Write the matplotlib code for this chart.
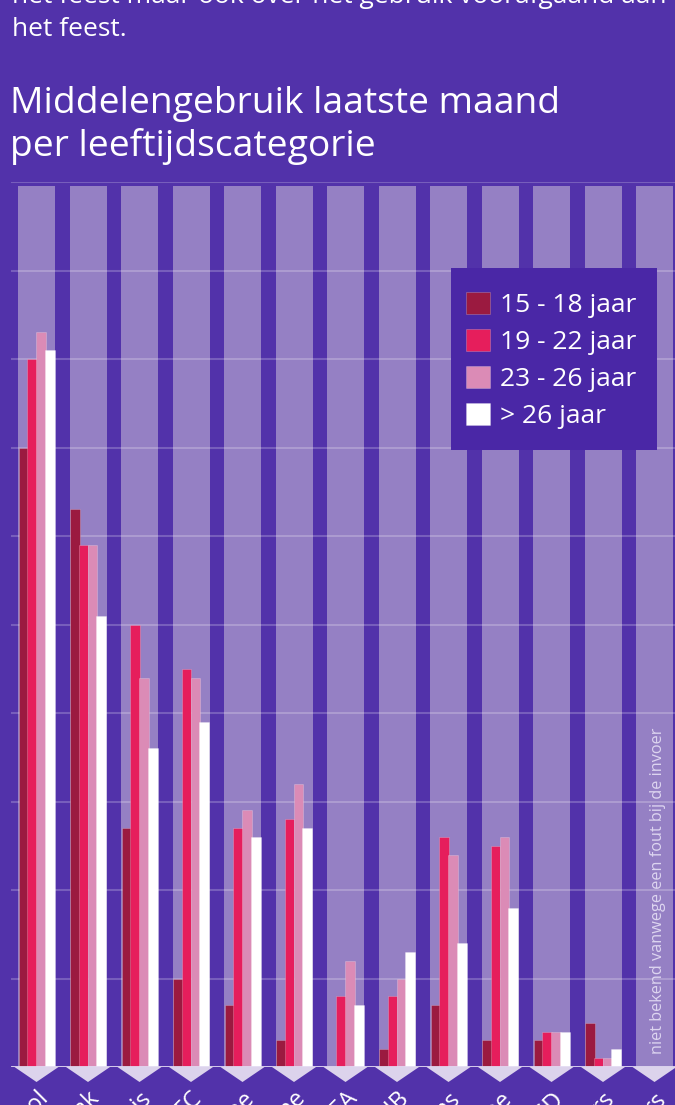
import matplotlib.pyplot as plt
from matplotlib.patches import Rectangle
import numpy as np

# data (percentages)
categories = ["Alcohol", "Tabak", "Cannabis", "XTC", "Cocaïne", "Amfetamine", "4-FA",
              "GHB", "Lachgasballons", "Ketamine", "LSD", "Poppers", "Kalmeerders"]
groups = ["15 - 18 jaar", "19 - 22 jaar", "23 - 26 jaar", "> 26 jaar"]
v_15_18 = [70, 63, 27, 10, 7, 3, 0, 2, 7, 3, 3, 5, np.nan]
v_19_22 = [80, 59, 50, 45, 27, 28, 8, 8, 26, 25, 4, 1, np.nan]
v_23_26 = [83, 59, 44, 44, 29, 32, 12, 10, 24, 26, 4, 1, np.nan]
v_26plus = [81, 51, 36, 39, 26, 27, 7, 13, 14, 18, 4, 2, np.nan]
yticks = list(range(0, 101, 10))

bg = "#5232AA"
col_bg = "#9580C4"
colors = ["#9B1A40", "#E61E5C", "#DB8BB6", "#FFFFFF"]

plt.rcParams['font.family'] = ['Open Sans', 'DejaVu Sans']

W, H = 675, 1105
fig = plt.figure(figsize=(W / 100, H / 100), dpi=100, facecolor=bg)

# intro text (cut off at top) and title
fig.text(12 / W, 1 - 3 / H, "het feest maar ook over het gebruik voorafgaand aan",
         color="white", fontsize=19, va="baseline", ha="left")
fig.text(12 / W, 1 - 36 / H, "het feest.", color="white", fontsize=19,
         va="baseline", ha="left")
fig.text(10 / W, 1 - 113 / H, "Middelengebruik laatste maand", color="white",
         fontsize=26.8, va="baseline", ha="left")
fig.text(10 / W, 1 - 156 / H, "per leeftijdscategorie", color="white",
         fontsize=26.8, va="baseline", ha="left")

# axes: x from 0 to 675 px, y from 1067 px (0) to 182 px (100)
pitch = 51.5
x0 = 36.5
ax = fig.add_axes([0, (H - 1067) / H, 1, 885 / H])
ax.set_facecolor("none")
ax.set_xlim(-x0 / pitch, (W - x0) / pitch)
ax.set_ylim(0, 100)
for s in ax.spines.values():
    s.set_visible(False)
ax.set_yticks([])

x = np.arange(len(categories))

# lavender column backgrounds
ax.bar(x, 99.6, width=37 / pitch, bottom=0, color=col_bg, zorder=1)

# gridlines
gx = 12 / W
for t in yticks[1:]:
    ax.axhline(t, xmin=gx, xmax=1, color="white", alpha=0.22, lw=1.5, zorder=2)
ax.axhline(0, xmin=gx, xmax=1, color="#E2DAF2", lw=2, zorder=5)

# grouped bars
bw = 9.6 / pitch
step = 8.8 / pitch
series = [v_15_18, v_19_22, v_23_26, v_26plus]
for i, (vals, c) in enumerate(zip(series, colors)):
    ax.bar(x + (i - 1.5) * step, vals, width=bw, color=c, zorder=3 + i * 0.1,
           edgecolor=(1, 1, 1, 0.25), linewidth=0.6, label=groups[i])

# triangles under the baseline
hw = 22 / pitch
th = 15 / 8.85
for xi in x:
    ax.fill([xi - hw, xi + hw, xi], [0, 0, -th], color="#DCD3EC",
            clip_on=False, zorder=4, lw=0)

# category labels (cut off at the bottom as in the reference)
ax.set_xticks(x)
ax.set_xticklabels(categories, rotation=45, ha="right", rotation_mode="anchor",
                   color="white", fontsize=17)
ax.tick_params(axis="x", length=0, pad=14)

# note for the last category
ax.text(x[-1] + 0.06, 1.5, "niet bekend vanwege een fout bij de invoer",
        rotation=90, ha="center", va="bottom", color="#DDD5F0", fontsize=11.7,
        zorder=6)

# legend box drawn by hand, legend entries on top
ax.add_patch(Rectangle((451 / W, 1 - 450 / H), 206 / W, 182 / H,
                       transform=fig.transFigure, facecolor="#4A27A6",
                       edgecolor="none", zorder=9, clip_on=False))
leg = ax.legend(loc="upper left", bbox_to_anchor=(466 / W, (1067 - 292) / 885),
                frameon=False, fontsize=19, labelcolor="white",
                handlelength=0.9, handleheight=0.9, handletextpad=0.38,
                labelspacing=0.41, borderpad=0, borderaxespad=0)
leg.set_zorder(10)

fig.savefig("out.png", dpi=100, facecolor=bg)
